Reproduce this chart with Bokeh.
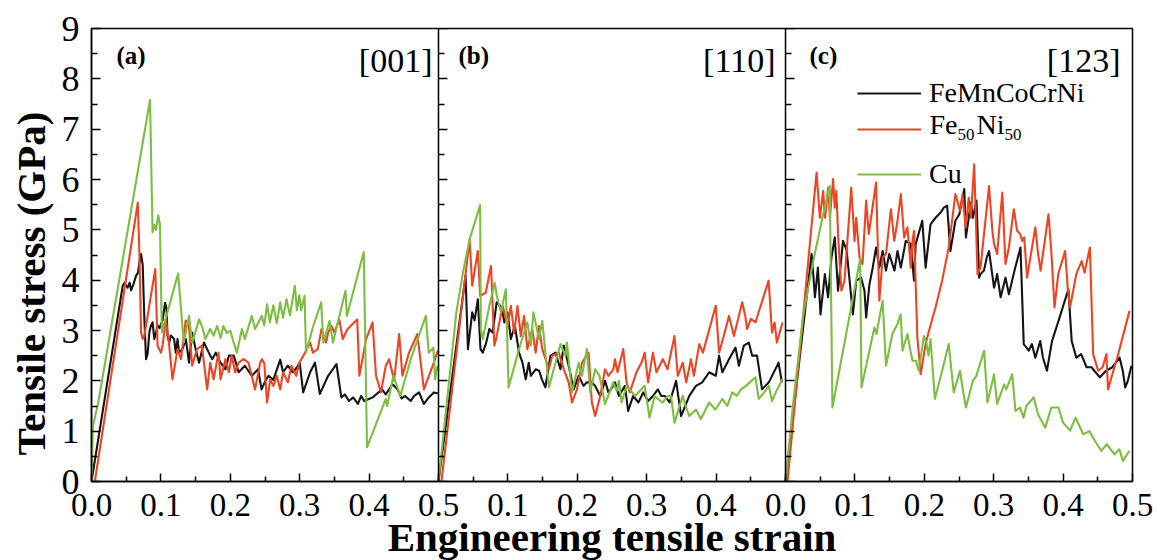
import math
from bokeh.plotting import figure
from bokeh.models import (Range1d, LinearAxis, FixedTicker, CustomJSTickFormatter,
                          Label, Legend, LegendItem, ColumnDataSource, Title)
from bokeh.embed import file_html
from bokeh.resources import INLINE

# ---------------- data (strain, stress GPa) ----------------
series_names = ["FeMnCoCrNi", "Fe50Ni50", "Cu"]
panel_tags = ["(a)", "(b)", "(c)"]
panel_dirs = ["[001]", "[110]", "[123]"]
x_title = "Engineering tensile strain"
y_title = "Tensile stress (GPa)"

a_hea = [(0, 0), (0.045, 3.89), (0.0475, 3.95), (0.052, 3.85), (0.055, 3.95), (0.057, 3.8), (0.06, 3.9),
         (0.0643, 4.09), (0.067, 4.15), (0.069, 4.35), (0.0714, 4.52), (0.0738, 4.3), (0.0762, 3.22),
         (0.0786, 2.43), (0.081, 2.55), (0.0833, 2.96), (0.0857, 3.1), (0.088, 3.16), (0.0905, 2.83),
         (0.093, 2.96), (0.0952, 3.1), (0.098, 3.05), (0.1024, 3.2), (0.106, 3.55), (0.108, 3.45),
         (0.1095, 2.89), (0.112, 2.76), (0.1143, 2.9), (0.119, 2.83), (0.1214, 2.56), (0.124, 2.83),
         (0.1262, 2.56), (0.131, 2.63), (0.136, 2.83), (0.1405, 2.36), (0.145, 2.96), (0.15, 2.63),
         (0.155, 2.36), (0.162, 2.76), (0.169, 2.56), (0.174, 2.43), (0.179, 2.56), (0.186, 2.36),
         (0.193, 2.23), (0.198, 2.5), (0.205, 2.5), (0.212, 2.17), (0.221, 2.3), (0.231, 2.1),
         (0.24, 2.23), (0.245, 1.83), (0.2505, 2.0), (0.255, 2.1), (0.262, 2.02), (0.272, 2.42),
         (0.276, 2.17), (0.283, 2.3), (0.29, 2.17), (0.295, 2.25), (0.3, 2.36), (0.305, 1.77),
         (0.315, 2.17), (0.322, 2.36), (0.329, 1.74), (0.341, 2.1), (0.353, 2.33), (0.36, 1.67),
         (0.365, 1.73), (0.371, 1.6), (0.377, 1.67), (0.3838, 1.54), (0.3886, 1.7), (0.393, 1.6),
         (0.3995, 1.64), (0.405, 1.67), (0.4186, 1.83), (0.424, 1.73), (0.4338, 1.93), (0.441, 1.83),
         (0.447, 1.65), (0.452, 1.7), (0.455, 1.66), (0.46, 1.6), (0.465, 1.7), (0.472, 1.77),
         (0.479, 1.54), (0.486, 1.67), (0.4933, 1.77), (0.499, 1.75)]

a_fen = [(0, 0), (0.0048, 0), (0.0667, 5.54), (0.069, 4.55), (0.0714, 2.96), (0.0738, 2.83), (0.0762, 2.9),
         (0.0919, 4.22), (0.0952, 2.7), (0.1, 2.56), (0.1024, 2.7), (0.1071, 3.22), (0.111, 2.83),
         (0.1167, 2.03), (0.124, 2.63), (0.129, 2.43), (0.1357, 3.2), (0.14, 3.15), (0.145, 2.3),
         (0.152, 2.63), (0.159, 2.7), (0.1667, 1.83), (0.171, 2.36), (0.176, 2.03), (0.183, 2.56),
         (0.186, 2.03), (0.193, 2.43), (0.198, 2.17), (0.202, 2.5), (0.207, 2.17), (0.212, 2.36),
         (0.219, 2.43), (0.2262, 2.36), (0.2357, 1.83), (0.243, 2.36), (0.2457, 2.43), (0.249, 2.35),
         (0.253, 1.57), (0.2576, 2.03), (0.262, 1.9), (0.267, 2.1), (0.272, 1.83), (0.276, 2.17),
         (0.283, 1.97), (0.288, 2.3), (0.295, 2.1), (0.2995, 2.36), (0.3076, 2.56), (0.315, 2.76),
         (0.319, 2.56), (0.326, 2.63), (0.3314, 3.03), (0.338, 2.76), (0.341, 2.96), (0.3457, 3.09),
         (0.35, 2.96), (0.357, 3.22), (0.362, 2.83), (0.369, 3.03), (0.374, 3.1), (0.3829, 3.22),
         (0.386, 2.1), (0.3957, 2.83), (0.405, 3.16), (0.41, 2.1), (0.4171, 1.77), (0.424, 2.3),
         (0.429, 2.43), (0.436, 2.0), (0.4433, 2.93), (0.448, 2.1), (0.4576, 2.56), (0.4695, 2.93),
         (0.479, 1.83), (0.4933, 2.36), (0.499, 2.6)]

a_cu = [(0, 0), (0.002, 1.1), (0.0095, 1.55), (0.0843, 7.58), (0.088, 4.95), (0.0905, 5.1), (0.093, 5.0),
        (0.0962, 5.29), (0.0986, 5.1), (0.1014, 2.96), (0.1248, 4.13), (0.133, 2.76), (0.1405, 3.29),
        (0.145, 2.76), (0.155, 3.22), (0.16, 3.05), (0.164, 2.83), (0.171, 3.03), (0.176, 2.9),
        (0.181, 3.09), (0.186, 2.85), (0.19, 3.09), (0.195, 2.95), (0.2, 3.0), (0.204, 2.8),
        (0.2095, 2.56), (0.2167, 3.03), (0.221, 2.83), (0.231, 3.29), (0.2357, 3.03), (0.2452, 3.29),
        (0.249, 3.1), (0.253, 3.52), (0.257, 3.16), (0.262, 3.5), (0.267, 3.15), (0.272, 3.56),
        (0.276, 3.25), (0.281, 3.62), (0.286, 3.3), (0.293, 3.89), (0.296, 3.4), (0.2995, 3.7),
        (0.302, 3.4), (0.307, 3.69), (0.3091, 2.56), (0.3195, 3.09), (0.331, 3.56), (0.334, 2.76),
        (0.343, 3.19), (0.348, 2.76), (0.366, 3.79), (0.368, 3.29), (0.3923, 4.56), (0.397, 0.68),
        (0.424, 1.64), (0.426, 1.5), (0.435, 2.1), (0.445, 1.7), (0.46, 2.43), (0.4817, 3.29),
        (0.486, 2.56), (0.4926, 2.66), (0.4952, 2.03), (0.4985, 2.3)]

b_hea = [(0, 0), (0.039, 4.09), (0.0424, 2.63), (0.0486, 3.36), (0.052, 3.2), (0.0567, 3.62), (0.0605, 2.63),
         (0.0638, 2.56), (0.0686, 2.75), (0.0733, 3.03), (0.078, 2.96), (0.0838, 3.56), (0.088, 3.5),
         (0.092, 3.4), (0.0948, 3.16), (0.0995, 3.36), (0.1043, 2.83), (0.11, 3.1), (0.116, 2.56),
         (0.121, 2.36), (0.1257, 2.03), (0.13, 2.36), (0.133, 2.1), (0.14, 2.23), (0.145, 2.2),
         (0.149, 2.03), (0.154, 1.87), (0.1614, 2.5), (0.1686, 2.56), (0.1757, 2.23), (0.1805, 2.7),
         (0.1876, 2.3), (0.1948, 1.83), (0.2019, 2.1), (0.209, 1.9), (0.2138, 1.97), (0.221, 1.97),
         (0.2257, 1.9), (0.233, 1.7), (0.24, 2.0), (0.2448, 1.77), (0.2519, 1.9), (0.2543, 1.97),
         (0.26, 1.7), (0.2686, 1.9), (0.2733, 1.4), (0.2805, 1.7), (0.288, 1.57), (0.295, 1.77),
         (0.302, 1.6), (0.309, 1.7), (0.3162, 1.83), (0.321, 1.7), (0.326, 1.7), (0.333, 1.57),
         (0.3424, 2.0), (0.3495, 1.3), (0.3614, 1.7), (0.371, 1.9), (0.38, 1.97), (0.39, 2.17),
         (0.3995, 2.1), (0.4043, 2.5), (0.409, 2.17), (0.4186, 2.43), (0.428, 2.66), (0.4329, 2.3),
         (0.44, 2.7), (0.4471, 2.76), (0.452, 2.5), (0.459, 2.5), (0.4662, 1.83), (0.476, 1.97),
         (0.49, 2.36), (0.4948, 1.97)]

b_fen = [(0, 0), (0.0043, 0), (0.0448, 4.81), (0.0486, 3.89), (0.0567, 4.58), (0.06, 3.69), (0.068, 3.75),
         (0.0757, 4.28), (0.0805, 2.7), (0.083, 2.83), (0.0924, 3.49), (0.0995, 3.09), (0.1043, 3.49),
         (0.109, 2.95), (0.1138, 3.49), (0.1186, 2.89), (0.1233, 3.29), (0.128, 2.63), (0.135, 3.03),
         (0.14, 2.56), (0.1448, 3.09), (0.1495, 2.63), (0.159, 2.23), (0.1638, 2.5), (0.1733, 2.56),
         (0.1805, 2.23), (0.1876, 1.97), (0.1924, 1.57), (0.1995, 1.83), (0.2067, 2.36), (0.2162, 2.56),
         (0.221, 1.57), (0.2257, 1.3), (0.233, 1.7), (0.24, 2.23), (0.2448, 2.1), (0.2519, 2.23),
         (0.2543, 2.43), (0.258, 2.17), (0.2662, 2.63), (0.271, 1.97), (0.2757, 1.77), (0.2852, 2.17),
         (0.2924, 2.36), (0.2971, 2.56), (0.302, 1.97), (0.309, 2.56), (0.314, 2.17), (0.3233, 2.43),
         (0.33, 2.23), (0.34, 2.89), (0.3448, 2.1), (0.352, 2.36), (0.357, 1.97), (0.3638, 2.43),
         (0.368, 2.1), (0.3757, 2.73), (0.381, 2.56), (0.3995, 3.49), (0.4043, 2.56), (0.411, 2.89),
         (0.4186, 3.29), (0.4257, 2.89), (0.4376, 3.56), (0.442, 3.29), (0.4448, 3.03), (0.45, 3.23),
         (0.4567, 3.16), (0.4757, 3.99), (0.4805, 2.96), (0.4843, 3.16), (0.4876, 2.76), (0.4957, 3.16)]

b_cu = [(0, 0), (0.0257, 3.36), (0.0352, 4.15), (0.0448, 4.81), (0.06, 5.49), (0.061, 3.03), (0.0638, 2.83),
        (0.0733, 3.49), (0.081, 3.95), (0.084, 3.69), (0.09, 3.36), (0.097, 3.82), (0.101, 1.87),
        (0.116, 2.63), (0.128, 3.16), (0.133, 2.7), (0.1367, 3.36), (0.1448, 2.83), (0.1495, 3.19),
        (0.159, 1.87), (0.1686, 2.36), (0.1757, 2.73), (0.183, 2.5), (0.185, 2.76), (0.1924, 1.77),
        (0.2019, 2.36), (0.2067, 2.1), (0.2138, 2.63), (0.2186, 1.77), (0.2257, 2.23), (0.232, 2.1),
        (0.24, 1.54), (0.2519, 1.97), (0.2567, 1.8), (0.26, 2.0), (0.2638, 1.57), (0.271, 1.9),
        (0.276, 1.83), (0.283, 1.7), (0.29, 1.8), (0.297, 1.9), (0.304, 1.27), (0.3114, 1.7),
        (0.316, 1.64), (0.323, 1.57), (0.3305, 1.7), (0.335, 1.7), (0.34, 1.17), (0.3519, 1.7),
        (0.356, 1.5), (0.3614, 1.3), (0.371, 1.43), (0.378, 1.24), (0.385, 1.43), (0.39, 1.57),
        (0.399, 1.43), (0.409, 1.64), (0.416, 1.5), (0.4233, 1.77), (0.43, 1.7), (0.436, 1.83),
        (0.443, 1.9), (0.4567, 2.07), (0.4614, 1.64), (0.471, 1.8), (0.476, 1.9), (0.4805, 1.6),
        (0.488, 1.83), (0.4957, 2.03)]

c_hea = [(0, 0), (0.0376, 4.52), (0.04, 4.12), (0.0424, 3.66), (0.0467, 4.25), (0.0505, 3.32), (0.0567, 4.12),
         (0.0614, 3.66), (0.0662, 4.45), (0.071, 4.85), (0.0757, 3.79), (0.0829, 4.78), (0.088, 4.6),
         (0.0924, 3.99), (0.0971, 3.32), (0.1019, 3.99), (0.109, 4.05), (0.1138, 3.79), (0.1162, 3.26),
         (0.121, 3.92), (0.1257, 4.25), (0.1305, 4.65), (0.1352, 4.25), (0.14, 4.58), (0.1448, 4.19),
         (0.1495, 4.52), (0.157, 4.19), (0.1614, 4.58), (0.1662, 4.25), (0.1733, 4.78), (0.1805, 4.72),
         (0.1852, 3.99), (0.1876, 4.72), (0.1971, 5.18), (0.2019, 4.25), (0.209, 5.11), (0.2162, 5.24),
         (0.2233, 5.34), (0.2281, 5.44), (0.2329, 5.48), (0.2376, 4.58), (0.2448, 5.18), (0.2505, 5.31),
         (0.2576, 5.81), (0.26, 4.85), (0.2671, 5.54), (0.27, 5.24), (0.2752, 5.58), (0.279, 4.05),
         (0.281, 4.12), (0.286, 4.19), (0.29, 4.45), (0.2933, 4.58), (0.3005, 3.85), (0.305, 4.12),
         (0.31, 3.66), (0.317, 4.05), (0.3219, 3.72), (0.33, 4.19), (0.3386, 4.65), (0.3433, 2.73),
         (0.3505, 2.6), (0.355, 2.73), (0.36, 2.46), (0.3671, 2.79), (0.371, 2.46), (0.3767, 2.2),
         (0.384, 2.79), (0.395, 3.26), (0.4076, 3.82), (0.4124, 2.79), (0.419, 2.46), (0.426, 2.53),
         (0.4338, 2.27), (0.441, 2.27), (0.445, 2.2), (0.4529, 2.07), (0.462, 2.2), (0.471, 2.27),
         (0.4814, 2.46), (0.486, 2.2), (0.4895, 1.87), (0.4933, 2.0), (0.4985, 2.3)]

c_fen = [(0, 0), (0.0029, 0), (0.0448, 6.14), (0.0495, 5.24), (0.0543, 5.77), (0.057, 5.24), (0.0614, 5.84),
         (0.064, 5.24), (0.0686, 6.01), (0.071, 5.44), (0.0733, 5.77), (0.076, 4.85), (0.0805, 3.79),
         (0.085, 3.99), (0.0948, 5.84), (0.0995, 4.78), (0.1019, 5.24), (0.1067, 4.45), (0.111, 4.32),
         (0.1162, 5.58), (0.12, 4.92), (0.1233, 5.24), (0.1305, 5.94), (0.1352, 3.59), (0.14, 4.45),
         (0.1448, 4.52), (0.1519, 5.41), (0.1567, 4.78), (0.1614, 5.18), (0.1662, 5.71), (0.171, 4.85),
         (0.1757, 5.05), (0.1805, 4.25), (0.183, 4.78), (0.1852, 4.98), (0.1876, 3.92), (0.19, 2.86),
         (0.1948, 2.13), (0.2019, 2.73), (0.2067, 2.99), (0.2162, 3.46), (0.2257, 3.99), (0.2352, 4.65),
         (0.2448, 5.71), (0.2514, 5.38), (0.255, 5.7), (0.2597, 5.05), (0.264, 5.64), (0.2671, 5.24),
         (0.2719, 6.3), (0.2767, 4.12), (0.281, 4.25), (0.2933, 5.87), (0.2981, 4.98), (0.3005, 4.72),
         (0.305, 4.52), (0.3124, 5.74), (0.317, 4.32), (0.3219, 4.65), (0.329, 5.41), (0.3338, 4.98),
         (0.338, 4.92), (0.341, 4.78), (0.344, 4.85), (0.3481, 4.05), (0.36, 5.05), (0.364, 4.52),
         (0.3676, 4.19), (0.379, 5.31), (0.383, 4.58), (0.3876, 3.46), (0.393, 4.12), (0.4029, 4.58),
         (0.407, 3.79), (0.41, 3.46), (0.419, 4.12), (0.4267, 4.38), (0.431, 4.15), (0.4386, 4.65),
         (0.4433, 2.53), (0.4505, 2.2), (0.457, 2.27), (0.4624, 2.53), (0.4648, 1.83), (0.471, 2.13),
         (0.478, 2.46), (0.4957, 3.39)]

c_cu = [(0, 0), (0.0114, 1.6), (0.0257, 3.32), (0.04, 4.38), (0.0543, 5.31), (0.0638, 5.87), (0.0676, 1.47),
        (0.1076, 4.42), (0.1095, 1.87), (0.1281, 3.06), (0.131, 2.93), (0.14, 3.59), (0.1448, 2.3),
        (0.154, 2.93), (0.1614, 3.13), (0.166, 3.32), (0.1686, 2.6), (0.1757, 2.93), (0.18, 2.6),
        (0.183, 2.4), (0.188, 2.4), (0.192, 2.2), (0.1995, 2.89), (0.203, 2.76), (0.206, 2.5),
        (0.209, 2.83), (0.2152, 1.64), (0.2257, 2.2), (0.2352, 2.73), (0.2424, 1.77), (0.2514, 2.2),
        (0.255, 1.87), (0.26, 1.47), (0.27, 2.0), (0.275, 2.1), (0.2862, 2.6), (0.291, 1.57),
        (0.3005, 2.13), (0.305, 1.54), (0.315, 1.93), (0.318, 1.83), (0.3267, 2.13), (0.3314, 1.4),
        (0.338, 1.47), (0.343, 1.27), (0.347, 1.5), (0.3576, 1.67), (0.364, 1.33), (0.3743, 1.07),
        (0.383, 1.47), (0.3933, 1.47), (0.4, 1.17), (0.41, 1.01), (0.418, 1.27), (0.429, 0.94),
        (0.438, 1.0), (0.4457, 0.81), (0.455, 0.61), (0.463, 0.74), (0.474, 0.54), (0.481, 0.64),
        (0.4862, 0.41), (0.4957, 0.61)]

# shared strain axis ticks (three panels side by side) and their labels
x_ticks = [round(i * 0.1, 2) for i in range(16)]
x_minor = [round(0.05 + i * 0.1, 2) for i in range(15)]
x_tick_labels = ["0.0", "0.1", "0.2", "0.3", "0.4", "0.5", "0.1", "0.2", "0.3", "0.4",
                 "0.0", "0.1", "0.2", "0.3", "0.4", "0.5"]
y_ticks = list(range(10))
y_minor = [i + 0.5 for i in range(9)]

colors = ["#141414", "#ee4424", "#7dbd42"]
FONT = "Liberation Serif"

# ---------------- figure ----------------
p = figure(frame_width=1041, frame_height=453,
           x_range=Range1d(0, 1.5), y_range=Range1d(0, 9),
           x_axis_type=None, y_axis_type=None,
           min_border_left=90, min_border_right=27, min_border_top=28, min_border_bottom=79,
           output_backend="svg", toolbar_location=None)
p.extra_x_ranges = {"a": Range1d(0, 1.5), "b": Range1d(-0.5, 1.0), "c": Range1d(-1.0, 0.5)}
p.outline_line_color = "black"
p.outline_line_width = 1.5
p.background_fill_color = "white"
p.border_fill_color = "white"

xaxis = LinearAxis(
    ticker=FixedTicker(ticks=x_ticks, minor_ticks=x_minor),
    formatter=CustomJSTickFormatter(args=dict(tvals=x_ticks, tlabels=x_tick_labels), code="""
        for (let i = 0; i < tvals.length; i++) {
            if (Math.abs(tvals[i] - tick) < 1e-6) { return tlabels[i]; }
        }
        return "";
    """),
    major_tick_in=8, major_tick_out=0, minor_tick_in=5, minor_tick_out=0,
    major_label_standoff=12, major_label_text_font=FONT, major_label_text_font_size="33px",
    major_label_text_color="black",
    axis_label=x_title, axis_label_text_font=FONT, axis_label_text_font_style="bold",
    axis_label_text_font_size="41px", axis_label_text_color="black", axis_label_standoff=-5,
    axis_line_width=1.5, major_tick_line_width=1.5, minor_tick_line_width=1.5)
p.add_layout(xaxis, "below")

yaxis = LinearAxis(
    ticker=FixedTicker(ticks=y_ticks, minor_ticks=y_minor),
    major_tick_in=9, major_tick_out=0, minor_tick_in=6, minor_tick_out=0,
    major_label_standoff=12, major_label_text_font=FONT, major_label_text_font_size="36px",
    major_label_text_color="black",
    axis_line_width=1.5, major_tick_line_width=1.5, minor_tick_line_width=1.5)
p.add_layout(yaxis, "left")

# y title beside the tick labels, starting above the frame bottom like the original
p.add_layout(Title(text=y_title, align="left", offset=26, standoff=10,
                   text_font=FONT, text_font_style="bold", text_font_size="41px",
                   text_color="black"), "left")

# panel separators with inward ticks (axes fixed at the panel boundaries)
for loc in [0.5, 1.0]:
    ax = LinearAxis(
        fixed_location=loc,
        ticker=FixedTicker(ticks=y_ticks, minor_ticks=y_minor),
        formatter=CustomJSTickFormatter(code="return '';"),
        major_tick_in=9, major_tick_out=0, minor_tick_in=6, minor_tick_out=0,
        major_label_text_font_size="1px",
        axis_line_width=1.5, major_tick_line_width=1.5, minor_tick_line_width=1.5)
    p.add_layout(ax, "left")

panels = [("a", [a_hea, a_fen, a_cu]), ("b", [b_hea, b_fen, b_cu]), ("c", [c_hea, c_fen, c_cu])]
c_renderers = []
for name, curves in panels:
    for k, pts in enumerate(curves):
        src = ColumnDataSource(dict(x=[q[0] for q in pts], y=[q[1] for q in pts]))
        r = p.line("x", "y", source=src, x_range_name=name, line_color=colors[k],
                   line_width=2.1, line_join="round")
        if name == "c":
            c_renderers.append(r)

# panel annotations (frame-relative screen units)
tag_x = [25, 367, 718]
dir_x = [341, 684, 1029]
for i in range(3):
    p.add_layout(Label(x=tag_x[i], y=426, x_units="screen", y_units="screen", text=panel_tags[i],
                       text_font=FONT, text_font_style="bold", text_font_size="25px",
                       text_align="left", text_baseline="middle", text_color="black"))
    p.add_layout(Label(x=dir_x[i], y=421, x_units="screen", y_units="screen", text=panel_dirs[i],
                       text_font=FONT, text_font_size="34px",
                       text_align="right", text_baseline="middle", text_color="black"))

# legend (one entry per row to reproduce the uneven row spacing)
leg_rows = [390.3, 354.3, 308.7]
leg_labels = [series_names[0], "", series_names[2]]
for k in range(3):
    leg = Legend(items=[LegendItem(label=leg_labels[k], renderers=[c_renderers[k]])],
                 location=(766, leg_rows[k] - 18), orientation="vertical",
                 glyph_width=64, glyph_height=32, label_height=32, label_standoff=8,
                 padding=0, margin=0, spacing=0,
                 label_text_font=FONT, label_text_font_size="28px", label_text_color="black",
                 border_line_color=None, background_fill_alpha=0)
    p.add_layout(leg)

# Fe50Ni50 with subscripts
for txt, xx, yy, fs in [("Fe", 838, 357, "28px"), ("50", 866, 347, "17px"),
                        ("Ni", 885, 357, "28px"), ("50", 913, 347, "17px")]:
    p.add_layout(Label(x=xx, y=yy, x_units="screen", y_units="screen", text=txt,
                       text_font=FONT, text_font_size=fs, text_align="left",
                       text_baseline="alphabetic", text_color="black"))

open("out.html", "w").write(file_html(p, INLINE))
